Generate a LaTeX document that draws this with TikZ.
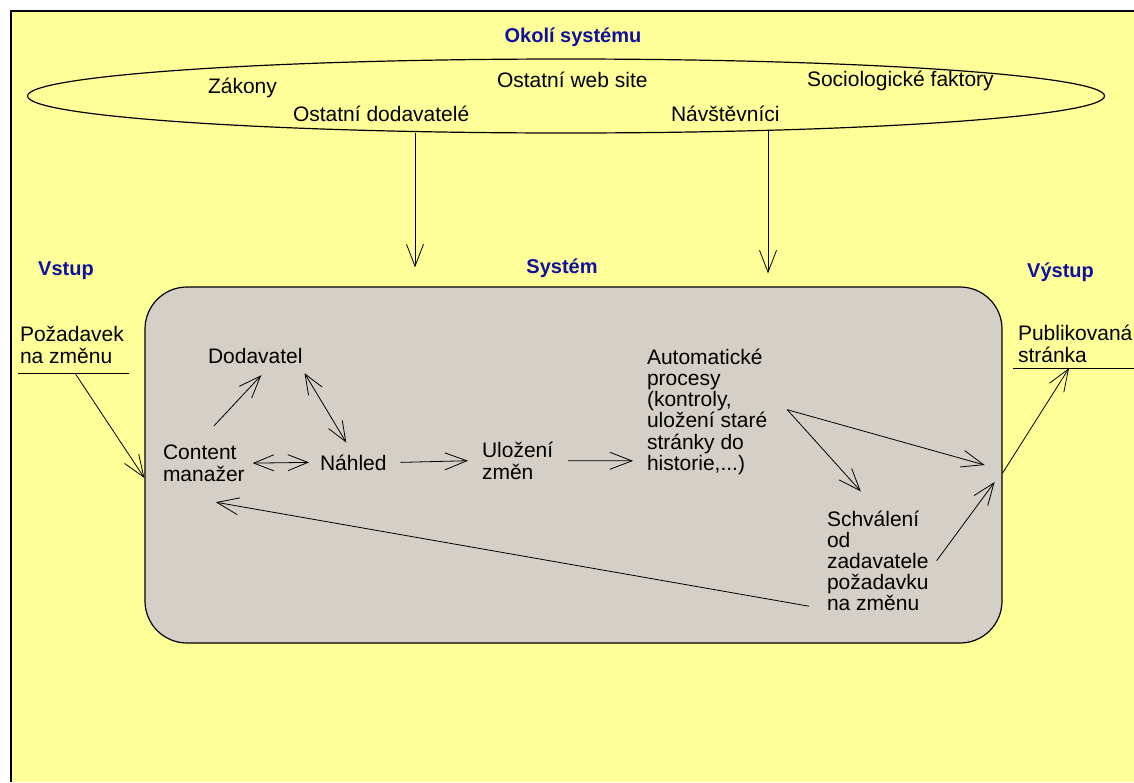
\documentclass[tikz,border=0pt]{standalone}
\usepackage{fontspec}
\setmainfont{Liberation Sans}
\usetikzlibrary{arrows.meta,shapes.geometric}
\definecolor{bgyellow}{RGB}{255,255,153}
\definecolor{boxgrey}{RGB}{212,208,200}
\definecolor{ttlblue}{RGB}{16,16,160}
\begin{document}
\begin{tikzpicture}[x=1pt,y=-1pt,
  lbl/.style={font=\fontsize{21}{21.3}\selectfont, inner sep=0pt, outer sep=0pt, align=left, anchor=base west},
  ttl/.style={font=\fontsize{20}{20}\selectfont\bfseries, text=ttlblue, inner sep=0pt, anchor=base},
  arr/.style={-{Straight Barb[length=22pt,width=17pt]}, line width=0.8pt},
  darr/.style={{Straight Barb[length=20pt,width=16pt]}-{Straight Barb[length=20pt,width=16pt]}, line width=0.8pt}]
\useasboundingbox (0,0) rectangle (1134,782);
\fill[white] (0,0) rectangle (1134,782);
\fill[bgyellow] (11,11) rectangle (1134,782);
\draw[line width=1.5pt] (11,782) -- (11,11) -- (1134,11);

\node[ttl] (okoli) at (573,42) {Okolí systému};
\node[draw, line width=1.2pt, ellipse, minimum width=1077pt, minimum height=74pt, inner sep=0pt] (env) at (566,96) {};
\node[lbl] (zak) at (208,93) {Zákony};
\node[lbl] (web) at (497,87) {Ostatní web site};
\node[lbl] (soc) at (807,86) {Sociologické faktory};
\node[lbl] (odod) at (293,121) {Ostatní dodavatelé};
\node[lbl] (nav) at (671,121) {Návštěvníci};

\node[ttl, anchor=base west] (vstup) at (38,275) {Vstup};
\node[ttl] (syst) at (562,273) {Systém};
\node[ttl, anchor=base west] (vystup) at (1027,277) {Výstup};

\node[draw, line width=1.2pt, fill=boxgrey, rounded corners=42pt, minimum width=857pt, minimum height=356pt, inner sep=0pt] (sys) at (573.5,465) {};

% multi-line nodes sit on their last line
\node[lbl] (req) at (20,363) {Požadavek\\na změnu};
\node[lbl] (pub) at (1018,362) {Publikovaná\\stránka};
\node[lbl] (dod) at (208,363) {Dodavatel};
\node[lbl] (cm) at (163,481) {Content\\manažer};
\node[lbl] (nah) at (320,470) {Náhled};
\node[lbl] (ulo) at (482,479) {Uložení\\změn};
\node[lbl] (auto) at (647,470.5) {Automatické\\procesy\\(kontroly,\\uložení staré\\stránky do\\historie,...)};
\node[lbl, font=\fontsize{21}{20.8}\selectfont] (schv) at (827,610) {Schválení\\od\\zadavatele\\požadavku\\na změnu};

\coordinate (reqfoot) at ([xshift=55pt,yshift=-10pt]req.south west);
\coordinate (pubfoot) at ([xshift=51pt,yshift=-6pt]pub.south west);
\coordinate (autofork) at ([xshift=20pt,yshift=2pt]auto.east);

\draw[line width=0.8pt] ([xshift=-2pt,yshift=-10pt]req.south west) -- ([xshift=5pt,yshift=-10pt]req.south east);
\draw[line width=0.8pt] ([xshift=-5pt,yshift=-6pt]pub.south west) -- ([xshift=2pt,yshift=-6pt]pub.south east);

\draw[arr] ([xshift=-151pt,yshift=1pt]env.south) -- ([xshift=-158.5pt,yshift=19pt]sys.north);
\draw[arr] ([xshift=202pt,yshift=3pt]env.south) -- ([xshift=194.5pt,yshift=13pt]sys.north);
\draw[arr] (reqfoot) -- ([yshift=-13pt]sys.west);
\draw[arr] ([yshift=-8pt]sys.east) -- (pubfoot);

\draw[arr] ([xshift=10pt,yshift=19pt]cm.north) -- ([xshift=6pt,yshift=-12pt]dod.south);
\draw[darr] ([xshift=2pt,yshift=-10pt]dod.south east) -- ([xshift=-7pt,yshift=12pt]nah.north);
\draw[darr] ([xshift=8pt]cm.east) -- ([xshift=-11pt]nah.west);
\draw[arr] ([xshift=14pt]nah.east) -- ([xshift=-14pt]ulo.west);
\draw[arr] ([xshift=15pt]ulo.east) -- ([xshift=-14pt,yshift=14pt]auto.south west);
\draw[arr] (autofork) -- ([xshift=-18pt]sys.east);
\draw[arr] (autofork) -- ([xshift=-17pt,yshift=20pt]schv.north);
\draw[arr] ([xshift=8pt]schv.east) -- ([xshift=-8pt,yshift=-17pt]sys.east);
\draw[arr] ([xshift=-18pt,yshift=4pt]schv.south west) -- ([xshift=12pt,yshift=-21pt]cm.south);
\end{tikzpicture}
\end{document}
